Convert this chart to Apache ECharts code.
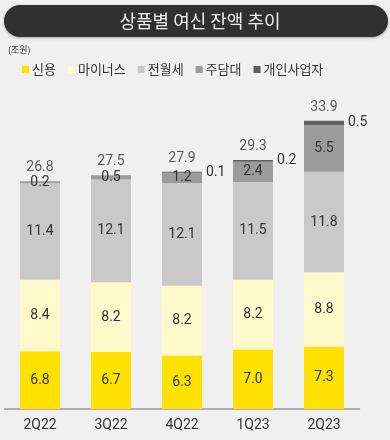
<!DOCTYPE html>
<html><head><meta charset="utf-8">
<script src="https://cdn.jsdelivr.net/npm/echarts@6/dist/echarts.min.js"></script>
<style>html,body{margin:0;padding:0;background:#f0f0f0}#c{width:390px;height:440px}</style>
</head><body><div id="c"></div>
<script>
const categories = ['2Q22','3Q22','4Q22','1Q23','2Q23'];
const seriesNames = ['신용','마이너스','전월세','주담대','개인사업자'];
const credit = [6.8, 6.7, 6.3, 7.0, 7.3];
const minus = [8.4, 8.2, 8.2, 8.2, 8.8];
const jeonse = [11.4, 12.1, 12.1, 11.5, 11.8];
const mortgage = [0.2, 0.5, 1.2, 2.4, 5.5];
const business = [0, 0, 0.1, 0.2, 0.5];
const totals = [26.8, 27.5, 27.9, 29.3, 33.9];
const colors = ['#ffe200','#fff9cc','#c9c9c9','#9b9b9b','#616161'];
const FONT = '"Noto Sans CJK KR", "Noto Sans", sans-serif';
const NUMFONT = 'Roboto, "Noto Sans CJK KR", sans-serif';

const chart = echarts.init(document.getElementById('c'));
const valueLists = [credit, minus, jeonse, mortgage, business];
const barSeries = valueLists.map((vals, i) => ({
  name: seriesNames[i],
  type: 'bar',
  stack: 'total',
  barWidth: 40,
  data: vals,
  itemStyle: { color: colors[i] },
  label: {
    show: true,
    position: i === 4 ? 'right' : 'inside',
    distance: 4,
    color: '#333',
    fontSize: 14,
    fontFamily: NUMFONT,
    formatter: p => p.value > 0 ? p.value.toFixed(1) : ''
  }
}));
barSeries.push({
  name: 'total', type: 'scatter', data: totals, symbolSize: 1,
  itemStyle: { color: 'rgba(0,0,0,0)' }, silent: true,
  label: { show: true, position: 'top', distance: 6, color: '#333', fontSize: 14, fontFamily: NUMFONT,
    formatter: p => p.value.toFixed(1) }
});

chart.setOption({
  backgroundColor: '#f0f0f0',
  animation: false,
  textStyle: { fontFamily: FONT },
  graphic: [
    { type: 'rect', shape: { x: 4, y: 5, width: 384, height: 32, r: 16 },
      style: { fill: '#303030', shadowBlur: 3, shadowColor: 'rgba(0,0,0,0.3)', shadowOffsetY: 1 } },
    { type: 'text', x: 200, y: 21.5, style: { text: '상품별 여신 잔액 추이', fill: '#eeeeee', fontSize: 18,
      fontFamily: FONT, align: 'center', verticalAlign: 'middle', textAlign: 'center', textVerticalAlign: 'middle' } },
    { type: 'text', x: 8, y: 50, style: { text: '(조원)', fill: '#333', fontSize: 9, fontFamily: FONT,
      verticalAlign: 'middle', textVerticalAlign: 'middle' } }
  ],
  legend: {
    data: seriesNames, left: 22, top: 63, padding: 0, itemWidth: 7, itemHeight: 7, itemGap: 12,
    icon: 'rect', textStyle: { color: '#333', fontSize: 13, fontFamily: FONT, padding: [0,0,0,-2] }
  },
  grid: { left: 4.5, right: 30.5, top: 69, bottom: 31 },
  xAxis: {
    type: 'category', data: categories,
    axisLine: { lineStyle: { color: '#999', width: 1.5 } },
    axisTick: { show: false },
    axisLabel: { color: '#333', fontSize: 14, margin: 10, fontFamily: NUMFONT }
  },
  yAxis: { type: 'value', min: 0, max: 40, show: false, splitLine: { show: false } },
  series: barSeries
});
</script></body></html>
